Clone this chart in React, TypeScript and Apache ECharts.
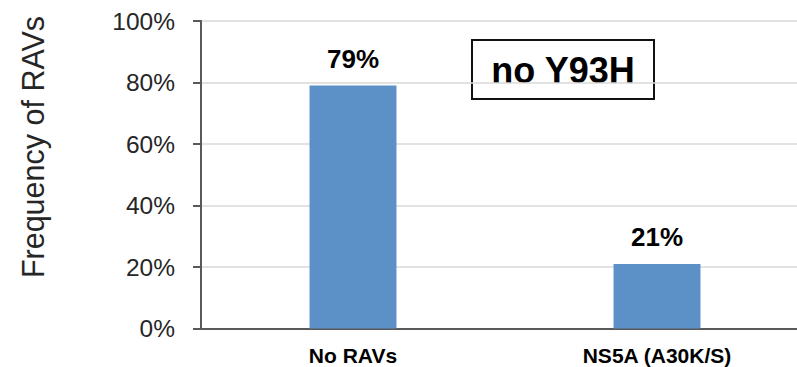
import React, { useEffect, useRef } from "react";
import * as echarts from "echarts";

const categories = ["No RAVs", "NS5A (A30K/S)"];
const frequencies = [79, 21];
const yTicks = [0, 20, 40, 60, 80, 100];

const FONT = "Liberation Sans, Arial, sans-serif";

export default function App() {
  const ref = useRef<HTMLDivElement>(null);

  useEffect(() => {
    if (!ref.current) return;
    const chart = echarts.init(ref.current, null, { renderer: "svg" });
    chart.setOption({
      animation: false,
      // the plot area runs past the right edge of the visible frame
      grid: { left: 201, right: 3, top: 21, bottom: 38.5, containLabel: false },
      xAxis: {
        type: "category",
        data: categories,
        axisLine: { lineStyle: { color: "#595959", width: 2 } },
        axisTick: { show: false },
        axisLabel: {
          color: "#000",
          fontFamily: FONT,
          fontWeight: "bold",
          fontSize: 21,
          margin: 16,
        },
      },
      yAxis: {
        type: "value",
        min: yTicks[0],
        max: yTicks[yTicks.length - 1],
        interval: 20,
        axisLine: { show: true, lineStyle: { color: "#595959", width: 2 } },
        axisTick: { show: true, length: 8, lineStyle: { color: "#595959", width: 2 } },
        axisLabel: {
          color: "#262626",
          fontFamily: FONT,
          fontSize: 24.5,
          margin: 26,
          formatter: "{value}%",
        },
        splitLine: { lineStyle: { color: "#d9d9d9", width: 1.5 } },
      },
      series: [
        {
          type: "bar",
          data: frequencies,
          barWidth: "28.6%",
          itemStyle: { color: "#5b91c6" },
          label: {
            show: true,
            position: "top",
            distance: 14,
            formatter: "{c}%",
            color: "#000",
            fontFamily: FONT,
            fontWeight: "bold",
            fontSize: 26,
          },
        },
      ],
      graphic: [
        {
          type: "text",
          x: 33,
          y: 147,
          rotation: Math.PI / 2,
          style: {
            text: "Frequency of RAVs",
            fontFamily: FONT,
            fontSize: 30.5,
            fill: "#262626",
            align: "center",
            verticalAlign: "middle",
          },
        },
        {
          type: "rect",
          shape: { x: 472, y: 40, width: 182, height: 59 },
          style: { fill: "#fff", stroke: "#111", lineWidth: 2 },
        },
        {
          type: "text",
          x: 563,
          y: 70,
          style: {
            text: "no Y93H",
            fontFamily: FONT,
            fontWeight: "bold",
            fontSize: 36,
            fill: "#000",
            align: "center",
            verticalAlign: "middle",
          },
        },
      ],
    });
    return () => chart.dispose();
  }, []);

  return (
    <div
      style={{
        position: "absolute",
        left: 0,
        top: 0,
        width: 797,
        height: 367,
        overflow: "hidden",
      }}
    >
      <div ref={ref} style={{ width: 812, height: 367 }} />
    </div>
  );
}
